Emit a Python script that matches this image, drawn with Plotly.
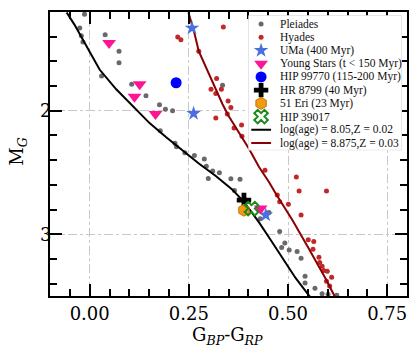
import plotly.graph_objects as go

# ---------------- data ----------------
pleiades_x = [-0.013, -0.025, -0.021, -0.017, 0.039, 0.074, 0.074, 0.030, 0.106, 0.142,
              0.176, 0.191, 0.209, 0.163, 0.178, 0.215, 0.219, 0.240, 0.264, 0.289,
              0.294, 0.310, 0.327, 0.299, 0.356, 0.379, 0.365, 0.430, 0.452, 0.479,
              0.492, 0.484, 0.503, 0.523, 0.533, 0.543, 0.543, 0.568, 0.586, 0.601,
              0.623, 0.335]
pleiades_y = [1.218, 1.330, 1.392, 1.443, 1.384, 1.518, 1.612, 1.719, 1.785, 1.879,
              1.952, 1.987, 2.000, 2.026, 2.161, 2.263, 2.291, 2.339, 2.362, 2.391,
              2.449, 2.488, 2.502, 2.548, 2.550, 2.555, 2.646, 2.874, 2.823, 2.978,
              3.071, 3.107, 3.127, 3.139, 3.195, 3.340, 3.394, 3.437, 3.482, 3.485,
              3.493, 1.794]

hyades_x = [0.337, 0.222, 0.230, 0.275, 0.320, 0.306, 0.332, 0.318, 0.349, 0.356,
            0.318, 0.347, 0.364, 0.383, 0.384, 0.442, 0.521, 0.528, 0.597, 0.473,
            0.479, 0.501, 0.533, 0.551, 0.565, 0.563, 0.578, 0.580, 0.586, 0.590,
            0.599, 0.610, 0.597, 0.605]
hyades_y = [1.322, 1.403, 1.424, 1.518, 1.738, 1.826, 1.826, 1.861, 1.920, 1.973,
            2.059, 2.027, 2.140, 2.116, 2.207, 2.482, 2.536, 2.649, 2.649, 2.683,
            2.737, 2.756, 2.844, 3.045, 3.059, 3.121, 3.187, 3.228, 3.260, 3.294,
            3.300, 3.348, 3.380, 3.420]

uma_x = [0.258, 0.262, 0.444]
uma_y = [1.330, 2.022, 2.844]

young_x = [0.049, 0.126, 0.113, 0.166, 0.431]
young_y = [1.451, 1.786, 1.887, 2.027, 2.791]

hip99770_x = [0.218]
hip99770_y = [1.773]

hr8799_x = [0.389]
hr8799_y = [2.723]

eri51_x = [0.389]
eri51_y = [2.805]

hip39017_x = [0.408]
hip39017_y = [2.792]

iso1_x = [-0.058, -0.038, -0.017, 0.000, 0.025, 0.067, 0.109, 0.151, 0.193, 0.234,
          0.276, 0.318, 0.360, 0.389, 0.427, 0.456, 0.486, 0.519, 0.555]
iso1_y = [1.204, 1.304, 1.424, 1.520, 1.666, 1.826, 1.960, 2.100, 2.215, 2.322,
          2.429, 2.528, 2.640, 2.737, 2.904, 3.045, 3.193, 3.354, 3.505]

iso2_x = [0.249, 0.264, 0.275, 0.297, 0.318, 0.335, 0.350, 0.402, 0.427, 0.452,
          0.469, 0.511, 0.553, 0.595, 0.618]
iso2_y = [1.204, 1.370, 1.518, 1.680, 1.826, 1.947, 2.040, 2.309, 2.456, 2.576,
          2.670, 2.884, 3.120, 3.360, 3.505]

labels = ["Pleiades", "Hyades", "UMa (400 Myr)", "Young Stars (t < 150 Myr)",
          "HIP 99770 (115-200 Myr)", "HR 8799 (40 Myr)", "51 Eri (23 Myr)",
          "HIP 39017", "log(age) = 8.05,Z = 0.02", "log(age) = 8.875,Z = 0.03"]

x_ticks = [0.00, 0.25, 0.50, 0.75]
y_ticks = [2, 3]
x_range = [-0.1, 0.8]
y_range = [3.5, 1.2]

# ---------------- styles ----------------
SERIF = "DejaVu Serif"
LEG_FONT = "Liberation Serif"
styles = [
    dict(mode="markers", marker=dict(symbol="circle", size=5, color="#696969")),
    dict(mode="markers", marker=dict(symbol="circle", size=5, color="#c0282a")),
    dict(mode="markers", marker=dict(symbol="star", size=11, color="#4a70e0", line=dict(width=0))),
    dict(mode="markers", marker=dict(symbol="triangle-down", size=12, color="#ff1493", line=dict(width=0))),
    dict(mode="markers", marker=dict(symbol="circle", size=11, color="#0000ff", line=dict(width=0))),
    dict(mode="markers", marker=dict(symbol="cross", size=12, color="#000000", line=dict(width=0))),
    dict(mode="markers", marker=dict(symbol="hexagon", size=12, color="#f39a12", line=dict(width=1, color="#c47400"))),
    dict(mode="markers", marker=dict(symbol="x-open", size=12, color="#1a8a1a", line=dict(width=2, color="#1a8a1a"))),
    dict(mode="lines", line=dict(color="#000000", width=2)),
    dict(mode="lines", line=dict(color="#8b0000", width=2)),
]

series = [(pleiades_x, pleiades_y), (hyades_x, hyades_y), (uma_x, uma_y),
          (young_x, young_y), (hip99770_x, hip99770_y), (hr8799_x, hr8799_y),
          (eri51_x, eri51_y), (hip39017_x, hip39017_y), (iso1_x, iso1_y), (iso2_x, iso2_y)]

draw_order = [0, 1, 8, 9, 2, 3, 4, 5, 6, 7]

fig = go.Figure()
for k in draw_order:
    xs, ys = series[k]
    st = styles[k]
    kw = dict(mode=st["mode"])
    if "marker" in st:
        kw["marker"] = st["marker"]
    if "line" in st:
        kw["line"] = st["line"]
    fig.add_trace(go.Scatter(x=xs, y=ys, name=labels[k], showlegend=False,
                             hoverinfo="skip", **kw))

# empty traces so the top / right tick axes get their own subplots drawn
fig.add_trace(go.Scatter(x=[], y=[], xaxis="x3", yaxis="y", showlegend=False,
                         hoverinfo="skip"))
fig.add_trace(go.Scatter(x=[], y=[], xaxis="x", yaxis="y3", showlegend=False,
                         hoverinfo="skip"))

# ---------------- hand-built legend (matplotlib-like compact rows) ----------------
LEG_TOP, LEG_BOT = -0.65, len(labels) - 0.45
SYM_X, LINE_X0, LINE_X1, TEXT_X = 0.082, 0.018, 0.147, 0.195
for i, (lab, st) in enumerate(zip(labels, styles)):
    if st["mode"] == "lines":
        fig.add_trace(go.Scatter(x=[LINE_X0, LINE_X1], y=[i, i], mode="lines",
                                 line=st["line"], xaxis="x2", yaxis="y2",
                                 showlegend=False, hoverinfo="skip"))
    else:
        fig.add_trace(go.Scatter(x=[SYM_X], y=[i], mode="markers", marker=st["marker"],
                                 xaxis="x2", yaxis="y2", showlegend=False, hoverinfo="skip"))
    fig.add_annotation(x=TEXT_X, y=i, xref="x2", yref="y2", text=lab, showarrow=False,
                       xanchor="left", yanchor="middle",
                       font=dict(family=LEG_FONT, size=11.5, color="#111111"))

fig.add_shape(type="rect", xref="x2", yref="y2", x0=0, x1=1, y0=LEG_TOP, y1=LEG_BOT,
              fillcolor="rgba(255,255,255,0.8)", line=dict(color="#cccccc", width=1),
              layer="below")

# axis titles
fig.add_annotation(x=0.497, y=-0.141, xref="paper", yref="paper", showarrow=False,
                   text="G<sub><i>BP</i></sub>-G<sub><i>RP</i></sub>",
                   xanchor="center", yanchor="middle",
                   font=dict(family=SERIF, size=18, color="black"))
fig.add_annotation(x=-0.089, y=0.509, xref="paper", yref="paper", showarrow=False,
                   text="M<sub><i>G</i></sub>", textangle=-90,
                   xanchor="center", yanchor="middle",
                   font=dict(family=SERIF, size=18, color="black"))

tick_common = dict(ticks="inside", ticklen=12, tickwidth=2, tickcolor="black")
axis_common = dict(
    showline=True, linecolor="black", linewidth=2, mirror=True,
    showgrid=True, gridcolor="#c8c8c8", gridwidth=1, griddash="dashdot",
    zeroline=False, tickfont=dict(family=SERIF, size=18, color="black"),
    **tick_common,
)
x_minor = dict(dtick=0.05, tick0=0, ticks="inside", ticklen=7, tickwidth=1.5,
               tickcolor="black", showgrid=False)
y_minor = dict(dtick=0.2, tick0=0, ticks="inside", ticklen=7, tickwidth=1.5,
               tickcolor="black", showgrid=False)

fig.update_layout(
    width=419, height=352,
    margin=dict(l=50, r=11, t=10, b=56),
    paper_bgcolor="white", plot_bgcolor="white",
    showlegend=False,
    xaxis=dict(range=x_range, tickmode="array", tickvals=x_ticks,
               ticktext=[f"{v:.2f}" for v in x_ticks], minor=x_minor, **axis_common),
    yaxis=dict(range=y_range, tickmode="array", tickvals=y_ticks,
               ticktext=[str(v) for v in y_ticks], minor=y_minor,
               ticklabelstandoff=-7, **axis_common),
    # mirrored tick axes (top / right)
    xaxis3=dict(range=x_range, overlaying="x", side="top", anchor="y",
                tickmode="array", tickvals=x_ticks, showticklabels=False,
                showgrid=False, zeroline=False, showline=False, minor=x_minor,
                **tick_common),
    yaxis3=dict(range=y_range, overlaying="y", side="right", anchor="x",
                tickmode="array", tickvals=y_ticks, showticklabels=False,
                showgrid=False, zeroline=False, showline=False, minor=y_minor,
                **tick_common),
    xaxis2=dict(domain=[0.556, 0.986], range=[0, 1], visible=False, anchor="y2",
                fixedrange=True),
    yaxis2=dict(domain=[0.513, 0.988], range=[LEG_BOT, LEG_TOP], visible=False,
                anchor="x2", fixedrange=True),
)

# remove the browser's default 8px page margin so the figure sits at the window origin
fig.write_html("out.html", config={"displayModeBar": False},
               post_script="document.body.style.margin='0';document.body.style.overflow='hidden';")
